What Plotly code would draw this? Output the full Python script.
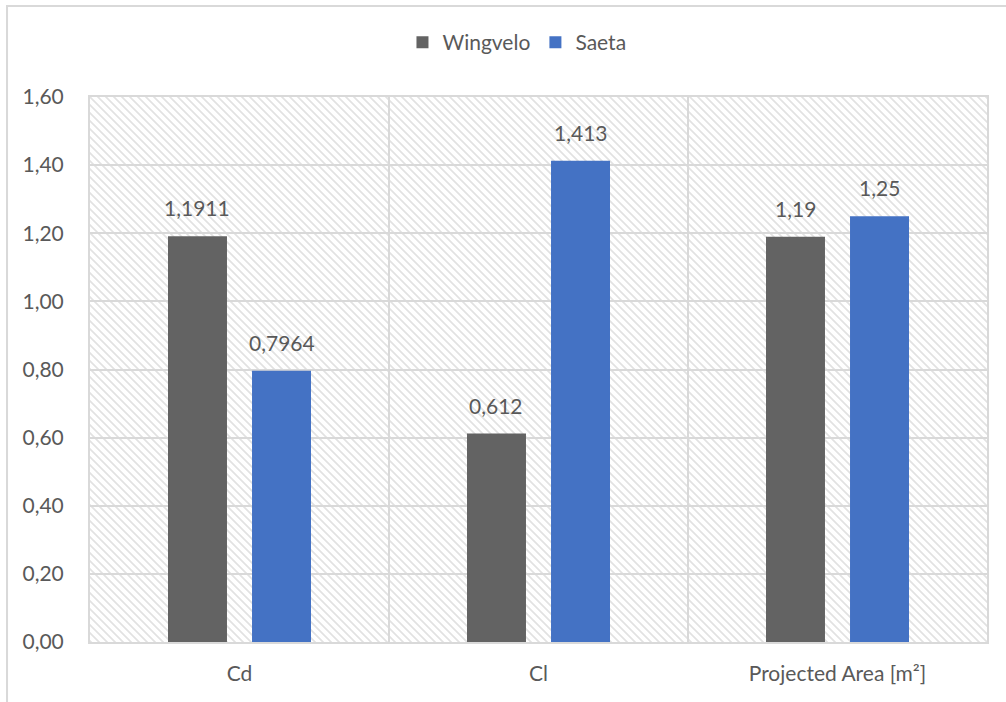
import base64
import plotly.graph_objects as go

categories = ["Cd", "Cl", "Projected Area [m²]"]
wingvelo = [1.1911, 0.612, 1.19]
saeta = [0.7964, 1.413, 1.25]
y_ticks = [0.0, 0.2, 0.4, 0.6, 0.8, 1.0, 1.2, 1.4, 1.6]

FONT = "Lato"
FS = 21
TEXT = "#595959"
GRID = "#D9D9D9"

W, H = 1006, 702
M = dict(l=90, r=19, t=97, b=60)
PW, PH = W - M["l"] - M["r"], H - M["t"] - M["b"]
BARGAP, BARGROUPGAP = 0.438, 0.298
# horizontal offset of each bar centre from its category centre, in px
slot = PW / len(categories) * (1 - BARGAP) / 2
offsets = {"Wingvelo": -slot / 2, "Saeta": slot / 2}


def label(v):
    return f"{v:g}".replace(".", ",")


# diagonal hatch fill for the plotting area
hatch_svg = f"""<svg xmlns='http://www.w3.org/2000/svg' width='{PW}' height='{PH}' viewBox='0 0 {PW} {PH}' preserveAspectRatio='none'>
<defs><pattern id='h' patternUnits='userSpaceOnUse' width='8' height='8'>
<path d='M-2,-2 L10,10 M-2,6 L2,10 M6,-2 L10,2' stroke='#E2E2E2' stroke-width='1.7'/>
</pattern></defs>
<rect width='{PW}' height='{PH}' fill='white'/>
<rect width='{PW}' height='{PH}' fill='url(#h)'/>
</svg>"""
hatch_src = "data:image/svg+xml;base64," + base64.b64encode(hatch_svg.encode()).decode()

series = [("Wingvelo", wingvelo, "#636363"), ("Saeta", saeta, "#4472C4")]

fig = go.Figure()
annotations = []
for name, vals, color in series:
    fig.add_bar(name=name, x=categories, y=vals,
                marker=dict(color=color, line=dict(width=0)))
    for cat, v in zip(categories, vals):
        annotations.append(dict(
            x=cat, y=v, xref="x", yref="y", text=label(v), showarrow=False,
            xshift=offsets[name], yshift=14, yanchor="bottom",
            font=dict(family=FONT, size=FS, color=TEXT)))

fig.update_layout(
    width=W, height=H,
    margin=M,
    paper_bgcolor="white",
    plot_bgcolor="rgba(0,0,0,0)",
    barmode="group",
    bargap=BARGAP,
    bargroupgap=BARGROUPGAP,
    separators=",.",
    font=dict(family=FONT, size=FS, color=TEXT),
    showlegend=True,
    legend=dict(orientation="h", x=0.476, xanchor="center", y=1.1, yanchor="middle",
                font=dict(family=FONT, size=FS, color=TEXT), itemwidth=30,
                traceorder="normal"),
    annotations=annotations,
    images=[dict(source=hatch_src, xref="paper", yref="paper", x=0, y=1,
                 sizex=1, sizey=1, sizing="stretch", layer="below")],
    shapes=[dict(type="rect", xref="paper", yref="paper",
                 x0=-0.0925, x1=1.05, y0=-0.12, y1=1.167,
                 line=dict(color=GRID, width=2), fillcolor="rgba(0,0,0,0)",
                 layer="below")],
)
fig.update_xaxes(
    type="category", tickson="boundaries", showgrid=True, gridcolor=GRID, gridwidth=2,
    showline=True, mirror=True, linecolor=GRID, linewidth=2, ticks="",
    tickfont=dict(family=FONT, size=FS, color=TEXT), ticklabelstandoff=12,
)
fig.update_yaxes(
    range=[0, 1.6], tickvals=y_ticks, tickformat=".2f",
    showgrid=True, gridcolor=GRID, gridwidth=2, zeroline=False,
    showline=True, mirror=True, linecolor=GRID, linewidth=2, ticks="",
    tickfont=dict(family=FONT, size=FS, color=TEXT), ticklabelstandoff=20,
)

fig.write_html("out.html")
